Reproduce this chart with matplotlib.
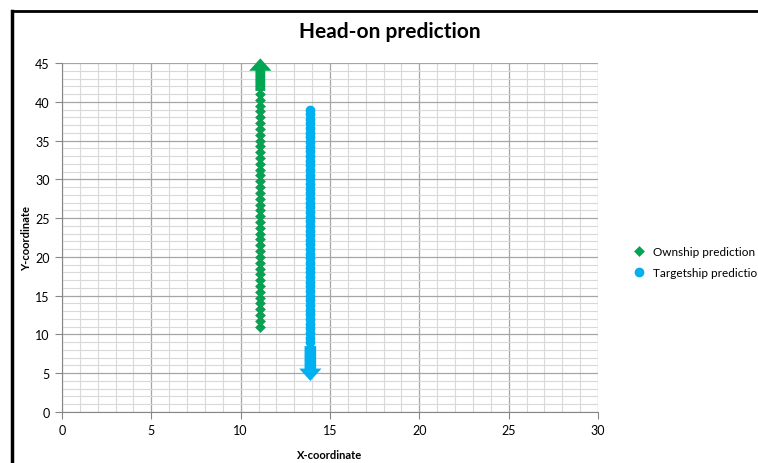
import matplotlib
matplotlib.use("Agg")
import matplotlib.pyplot as plt
from matplotlib.lines import Line2D
from matplotlib.patches import FancyArrow

plt.rcParams['font.family'] = ['Lato', 'DejaVu Sans']

# ownship: moving north at x ~ 11.1
own_x = [11.1] * 41
own_y = [11.0, 11.75, 12.5, 13.25, 14.0, 14.75, 15.5, 16.25, 17.0, 17.75,
         18.5, 19.25, 20.0, 20.75, 21.5, 22.25, 23.0, 23.75, 24.5, 25.25,
         26.0, 26.75, 27.5, 28.25, 29.0, 29.75, 30.5, 31.25, 32.0, 32.75,
         33.5, 34.25, 35.0, 35.75, 36.5, 37.25, 38.0, 38.75, 39.5, 40.25, 41.0]

# targetship: moving south at x ~ 13.9
tgt_x = [13.9] * 51
tgt_y = [39.0, 38.4, 37.8, 37.2, 36.6, 36.0, 35.4, 34.8, 34.2, 33.6,
         33.0, 32.4, 31.8, 31.2, 30.6, 30.0, 29.4, 28.8, 28.2, 27.6,
         27.0, 26.4, 25.8, 25.2, 24.6, 24.0, 23.4, 22.8, 22.2, 21.6,
         21.0, 20.4, 19.8, 19.2, 18.6, 18.0, 17.4, 16.8, 16.2, 15.6,
         15.0, 14.4, 13.8, 13.2, 12.6, 12.0, 11.4, 10.8, 10.2, 9.6, 9.0]

# heading arrows: (x, y_start, y_end)
own_arrow = (11.1, 41.4, 45.6)
tgt_arrow = (13.9, 8.5, 4.0)

GREEN = '#00A651'
BLUE = '#00B0F0'

fig = plt.figure(figsize=(7.58, 4.64), dpi=100)
ax = fig.add_axes([62 / 758, 51 / 464, 536 / 758, 349 / 464])

ax.set_xlim(0, 30)
ax.set_ylim(0, 45)
ax.set_xticks(range(0, 31, 5))
ax.set_yticks(range(0, 46, 5))
ax.set_xticks(range(0, 31), minor=True)
ax.set_yticks(range(0, 46), minor=True)
ax.grid(which='major', color='#A6A6A6', linewidth=0.9)
ax.grid(which='minor', color='#D9D9D9', linewidth=0.8)
ax.set_axisbelow(True)
ax.tick_params(which='major', length=5, color='#868686', labelsize=9, pad=4)
ax.tick_params(which='minor', length=0)
for s in ['top', 'right']:
    ax.spines[s].set_visible(False)
for s in ['left', 'bottom']:
    ax.spines[s].set_color('#868686')

ax.plot(own_x, own_y, linestyle='none', marker='D', markersize=5,
        color=GREEN, markeredgecolor='#2E8B57', markeredgewidth=0.4,
        label='Ownship prediction', clip_on=False)
ax.plot(tgt_x, tgt_y, linestyle='none', marker='o', markersize=7,
        color=BLUE, markeredgewidth=0, label='Targetship prediction',
        clip_on=False)

for (ax_x, y0, y1), c, w in [(own_arrow, GREEN, 0.55), (tgt_arrow, BLUE, 0.65)]:
    arr = FancyArrow(ax_x, y0, 0, y1 - y0, width=w, head_width=1.25,
                     head_length=1.6, length_includes_head=True,
                     color=c, linewidth=0, clip_on=False)
    ax.add_patch(arr)

ax.set_xlabel('X-coordinate', fontsize=8, fontweight='bold', labelpad=9)
ax.set_ylabel('Y-coordinate', fontsize=8, fontweight='bold', labelpad=2)
fig.text(390 / 758, 1 - 32 / 464, 'Head-on prediction', ha='center',
         va='center', fontsize=15, fontweight='bold')

fig.legend(loc='center left', bbox_to_anchor=(626 / 758, 1 - 263 / 464),
           frameon=False, fontsize=8.5, handlelength=1.2, handletextpad=0.6,
           labelspacing=0.9, borderpad=0)

# chart frame (top and left edges visible)
fig.add_artist(Line2D([12 / 758, 757 / 758], [1 - 12 / 464, 1 - 12 / 464],
                      transform=fig.transFigure, color='black', linewidth=2))
fig.add_artist(Line2D([12 / 758, 12 / 758], [1 - 12 / 464, 0],
                      transform=fig.transFigure, color='black', linewidth=2.5))

fig.savefig('out.png', dpi=100)
